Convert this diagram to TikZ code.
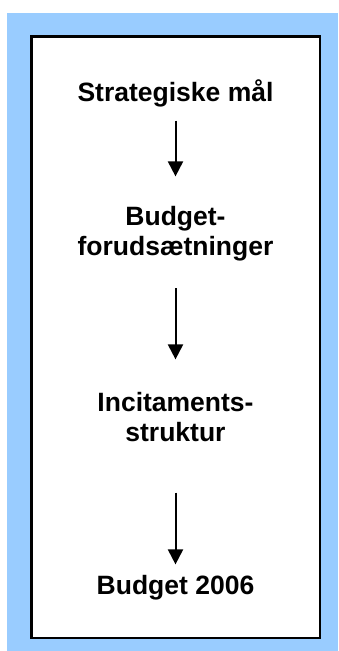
\documentclass[tikz,border=0pt]{standalone}
\usepackage{fontspec}
\setmainfont{Liberation Sans}
\usetikzlibrary{positioning,arrows.meta}
\definecolor{paleblue}{HTML}{99CCFF}
\tikzstyle{tbox}=[inner sep=0pt, anchor=base, align=center,
                  font=\fontsize{13.25}{15}\selectfont\bfseries]
\tikzstyle{pline}=[line width=1pt, -{Triangle[width=7.5pt,length=7.5pt]}]

\begin{document}
\begin{tikzpicture}[x=0.5pt,y=-0.5pt]
\useasboundingbox (0,0) rectangle (338,651);
\fill[paleblue] (7,13) rectangle (338,651);
\draw[fill=white, line width=1.1pt] (31.5,36.5) rectangle (320,638);

% base anchor of a two-line node is its last line
\node (STRAT) [tbox] at (175.5,101.5) {Strategiske mål};
\node (BFOR) [tbox] at (175.5,256) {Budget-\\forudsætninger};
\node (INCIT) [tbox] at (175.5,441) {Incitaments-\\struktur};
\node (B2006) [tbox] at (175.5,594) {Budget 2006};

 \draw[pline, shorten <=6.5pt, shorten >=15pt] (STRAT) -- (BFOR);
 \draw[pline, shorten <=13pt, shorten >=16pt] (BFOR) -- (INCIT);
 \draw[pline, shorten <=25.5pt, shorten >=5pt] (INCIT) -- (B2006);

\end{tikzpicture}
\end{document}
